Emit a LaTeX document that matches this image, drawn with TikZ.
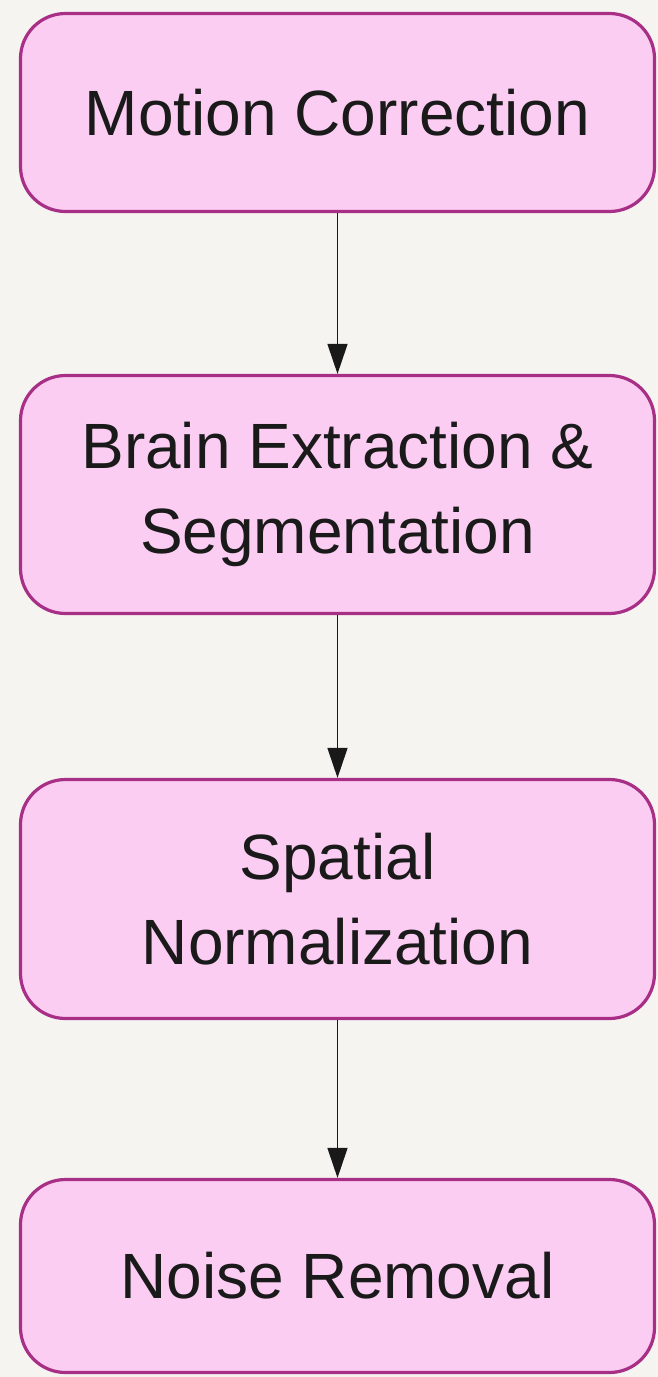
\documentclass[tikz,border=0pt]{standalone}
\usepackage{fontspec}
\setsansfont{Liberation Sans}
\usetikzlibrary{arrows.meta}
\definecolor{stepfill}{HTML}{FCCDF2}
\definecolor{stepline}{HTML}{A82F86}
\definecolor{paper}{HTML}{F5F4F0}
\definecolor{ink}{HTML}{1A1A1A}

\begin{document}
\begin{tikzpicture}[x=1pt,y=1pt,main node/.style={rectangle,rounded corners=45pt,fill=stepfill,draw=stepline,line width=3.2pt,text=ink,minimum width=634pt,align=center,font=\sffamily\fontsize{64}{85}\selectfont}, flow/.style={draw=black!90,line width=1.3pt,-{Triangle[width=20pt,length=30pt]}}]
    \fill[paper] (0,0) rectangle (658,-1377);
    \useasboundingbox (0,0) rectangle (658,-1377);

    \node[main node, minimum height=198pt] (motion) at (337.5,-112.5) {Motion Correction};
    \node[main node, minimum height=238pt] (brain) at (337.5,-494.5) {Brain Extraction \&\\Segmentation};
    \node[main node, minimum height=239pt] (spatial) at (337.5,-899) {Spatial\\Normalization};
    \node[main node, minimum height=193pt] (noise) at (337.5,-1276) {Noise Removal};

    \draw[flow] (motion) -- (brain);
    \draw[flow] (brain) -- (spatial);
    \draw[flow] (spatial) -- (noise);
    \end{tikzpicture}
\end{document}
